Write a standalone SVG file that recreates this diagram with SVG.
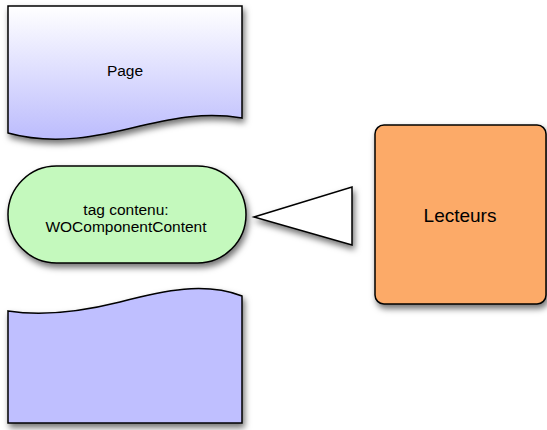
<svg xmlns="http://www.w3.org/2000/svg" width="547" height="430" viewBox="0 0 547 430">
  <defs>
    <linearGradient id="pageFill" x1="0" y1="0" x2="0" y2="1">
      <stop offset="0" stop-color="#ffffff"/>
      <stop offset="1" stop-color="#bcbcfd"/>
    </linearGradient>
    <filter id="shadow" x="-20%" y="-20%" width="140%" height="150%">
      <feDropShadow dx="2" dy="4" stdDeviation="3" flood-color="#000" flood-opacity="0.55"/>
    </filter>
  </defs>
  <style>
    .shape { stroke: #000; stroke-width: 1.5; filter: url(#shadow); }
    .label { font-family: "Liberation Sans", Arial, sans-serif; fill: #000; text-anchor: middle; }
  </style>

  <g id="page">
    <path class="shape" fill="url(#pageFill)" d="M8,6 H242 V118 C205,112 175,118 140,126 C100,136 55,146 8,133 Z"/>
    <text class="label" x="125" y="76" font-size="15.5">Page</text>
  </g>

  <g id="tag-contenu">
    <rect class="shape" fill="#c4f9bd" x="8" y="166" width="238" height="97" rx="48.5" ry="48.5"/>
    <text class="label" x="126" y="215" font-size="15.5">tag contenu:</text>
    <text class="label" x="126" y="232" font-size="15.5">WOComponentContent</text>
  </g>

  <g id="page-bas">
    <path class="shape" fill="#bfbfff" d="M8,311 C40,316 80,312 120,302 C165,290 205,282 242,296 V423 H8 Z"/>
  </g>

  <g id="lecteurs">
    <rect class="shape" fill="#fcaa67" x="375" y="125" width="171" height="179" rx="9" ry="9"/>
    <text class="label" x="460" y="222" font-size="19">Lecteurs</text>
  </g>

  <g id="connectors">
    <polygon class="shape" fill="#ffffff" points="254,217 352,187 352,245"/>
  </g>
</svg>
